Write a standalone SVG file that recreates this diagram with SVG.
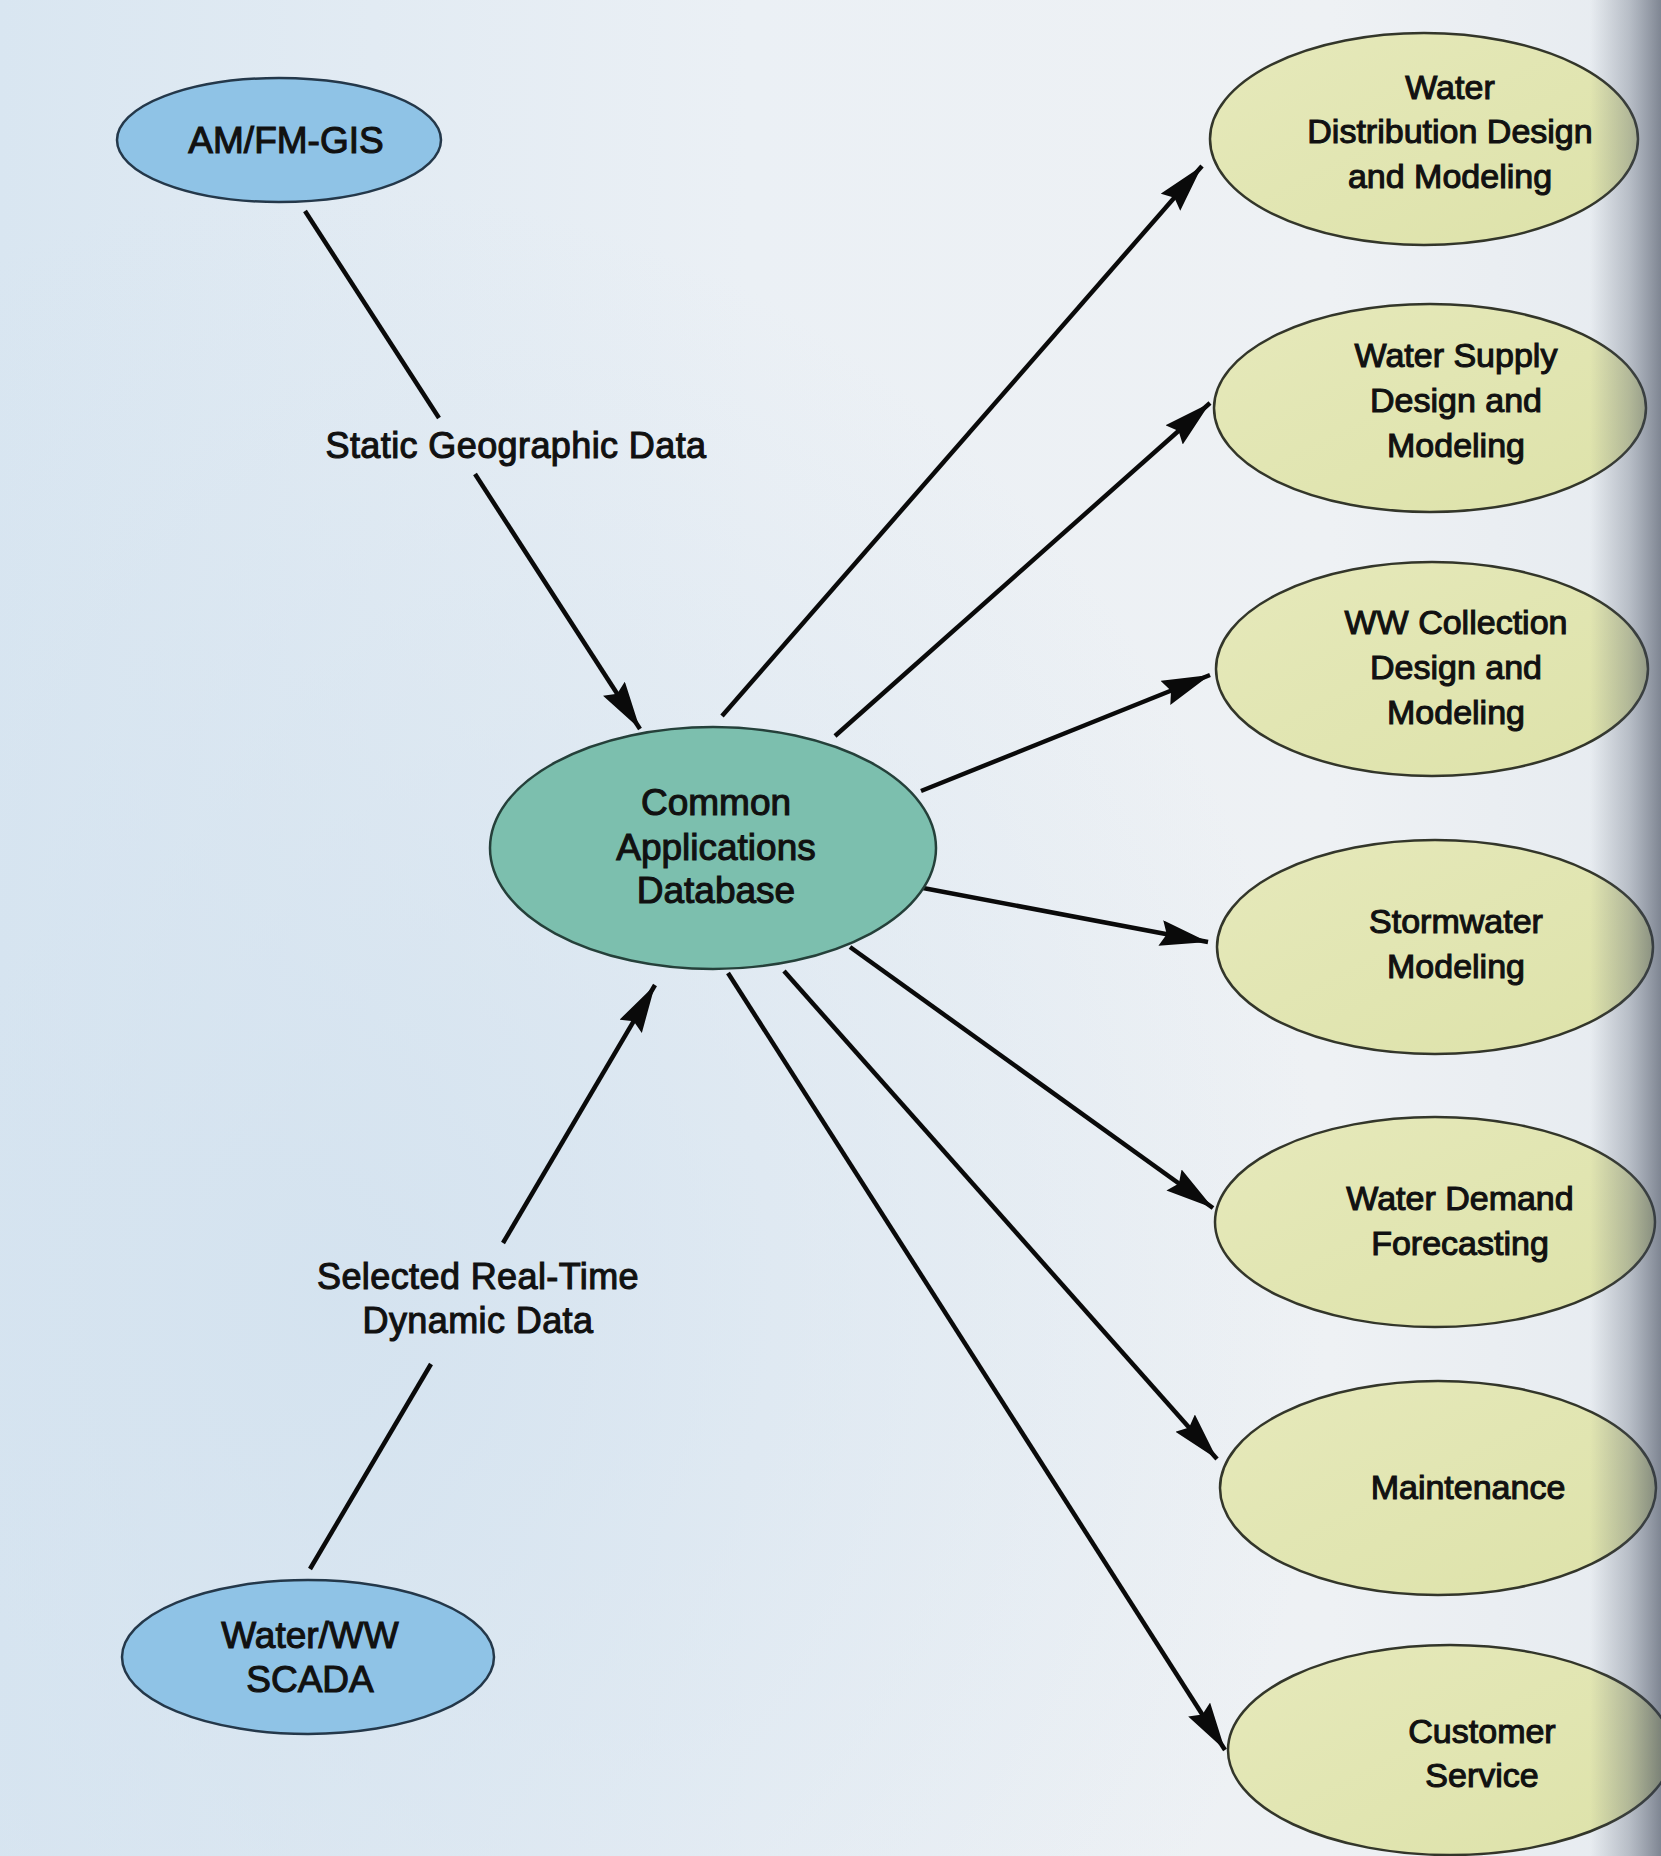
<svg xmlns="http://www.w3.org/2000/svg" width="1661" height="1856" viewBox="0 0 1661 1856">
<defs>
<style>
.lbl{font-family:"Liberation Sans",Arial,Helvetica,sans-serif;fill:#111;stroke:#111;stroke-width:1.1;text-anchor:middle}
.r{font-size:34px}
.l{font-size:37px}
.e{font-size:36px;letter-spacing:0.4px}
.blue{fill:#8fc3e6;stroke:#24384a;stroke-width:2.5}
.teal{fill:#7cbfae;stroke:#25403a;stroke-width:2.5}
.yel{fill:url(#yg);stroke:#33362a;stroke-width:2.5}
.con{stroke:#0a0a0a;stroke-width:4.5;fill:none}
.arr{marker-end:url(#ah)}
</style>
<linearGradient id="bg" x1="0" y1="0" x2="1" y2="0">
<stop offset="0" stop-color="#d9e6f1"/>
<stop offset="0.45" stop-color="#ebf0f5"/>
<stop offset="0.8" stop-color="#eef1f4"/>
<stop offset="1" stop-color="#e6ebf0"/>
</linearGradient>
<radialGradient id="bl" cx="0.2" cy="0.7" r="0.6">
<stop offset="0" stop-color="#d3e2ef" stop-opacity="0.9"/>
<stop offset="1" stop-color="#d3e2ef" stop-opacity="0"/>
</radialGradient>
<linearGradient id="yg" x1="0" y1="0" x2="1" y2="1">
<stop offset="0" stop-color="#e6e9bb"/>
<stop offset="1" stop-color="#dde2a9"/>
</linearGradient>
<linearGradient id="sh" x1="0" y1="0" x2="1" y2="0">
<stop offset="0" stop-color="#4a5366" stop-opacity="0"/>
<stop offset="0.55" stop-color="#4a5366" stop-opacity="0.3"/>
<stop offset="1" stop-color="#3a4254" stop-opacity="0.6"/>
</linearGradient>
<marker id="ah" markerUnits="userSpaceOnUse" markerWidth="52" markerHeight="30" refX="48" refY="13" orient="auto">
<path d="M0,0 L48,13 L0,26 L6,13 z" fill="#0a0a0a"/>
</marker>
</defs>
<rect x="0" y="0" width="1661" height="1856" fill="url(#bg)"/>
<rect x="0" y="0" width="1661" height="1856" fill="url(#bl)"/>

<g id="connectors">
<line class="con" x1="305" y1="211" x2="439" y2="418"/>
<line class="con arr" x1="475" y1="474" x2="640" y2="729"/>
<line class="con" x1="310" y1="1569" x2="431" y2="1364"/>
<line class="con arr" x1="503" y1="1243" x2="655" y2="985"/>
<line class="con arr" x1="722" y1="716" x2="1202" y2="166"/>
<line class="con arr" x1="835" y1="736" x2="1210" y2="403"/>
<line class="con arr" x1="921" y1="791" x2="1210" y2="675"/>
<line class="con arr" x1="923" y1="888" x2="1208" y2="942"/>
<line class="con arr" x1="850" y1="947" x2="1213" y2="1208"/>
<line class="con arr" x1="784" y1="971" x2="1217" y2="1459"/>
<line class="con arr" x1="728" y1="973" x2="1225" y2="1750"/>
<text class="lbl e" x="516" y="458">Static Geographic Data</text>
<text class="lbl e" x="478" y="1289">Selected Real-Time</text>
<text class="lbl e" x="478" y="1333">Dynamic Data</text>
</g>

<g id="amfm">
<ellipse class="blue" cx="279" cy="140" rx="162" ry="62"/>
<text class="lbl l" x="286" y="153">AM/FM-GIS</text>
</g>
<g id="cadb">
<ellipse class="teal" cx="713" cy="848" rx="223" ry="121"/>
<text class="lbl l" x="716" y="815">Common</text>
<text class="lbl l" x="716" y="860">Applications</text>
<text class="lbl l" x="716" y="903">Database</text>
</g>
<g id="scada">
<ellipse class="blue" cx="308" cy="1657" rx="186" ry="77"/>
<text class="lbl l" x="310" y="1648">Water/WW</text>
<text class="lbl l" x="310" y="1692">SCADA</text>
</g>
<g id="wdd">
<ellipse class="yel" cx="1424" cy="139" rx="214" ry="106"/>
<text class="lbl r" x="1450" y="99">Water</text>
<text class="lbl r" x="1450" y="143">Distribution Design</text>
<text class="lbl r" x="1450" y="188">and Modeling</text>
</g>
<g id="wsd">
<ellipse class="yel" cx="1430" cy="408" rx="216" ry="104"/>
<text class="lbl r" x="1456" y="367">Water Supply</text>
<text class="lbl r" x="1456" y="412">Design and</text>
<text class="lbl r" x="1456" y="457">Modeling</text>
</g>
<g id="wwc">
<ellipse class="yel" cx="1432" cy="669" rx="216" ry="107"/>
<text class="lbl r" x="1456" y="634">WW Collection</text>
<text class="lbl r" x="1456" y="679">Design and</text>
<text class="lbl r" x="1456" y="724">Modeling</text>
</g>
<g id="storm">
<ellipse class="yel" cx="1435" cy="947" rx="218" ry="107"/>
<text class="lbl r" x="1456" y="933">Stormwater</text>
<text class="lbl r" x="1456" y="978">Modeling</text>
</g>
<g id="demand">
<ellipse class="yel" cx="1435" cy="1222" rx="220" ry="105"/>
<text class="lbl r" x="1460" y="1210">Water Demand</text>
<text class="lbl r" x="1460" y="1255">Forecasting</text>
</g>
<g id="maint">
<ellipse class="yel" cx="1438" cy="1488" rx="218" ry="107"/>
<text class="lbl r" x="1468" y="1499">Maintenance</text>
</g>
<g id="cust">
<ellipse class="yel" cx="1450" cy="1750" rx="222" ry="105"/>
<text class="lbl r" x="1482" y="1743">Customer</text>
<text class="lbl r" x="1482" y="1787">Service</text>
</g>
<rect x="1590" y="0" width="71" height="1856" fill="url(#sh)"/>
</svg>
